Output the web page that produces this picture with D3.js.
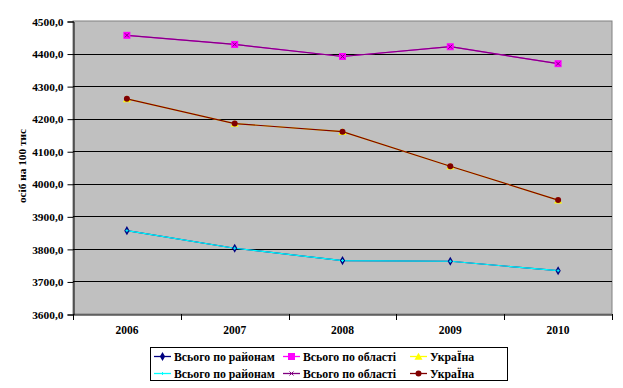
<!DOCTYPE html>
<html>
<head>
<meta charset="utf-8">
<script src="https://d3js.org/d3.v7.min.js"></script>
<style>
  body { margin: 0; background: #fff; }
</style>
</head>
<body>
<svg width="623" height="388"></svg>
<script>
var years = ["2006", "2007", "2008", "2009", "2010"];
var yTicks = [3600, 3700, 3800, 3900, 4000, 4100, 4200, 4300, 4400, 4500];
var rayony = [3856, 3802, 3764, 3762, 3733];
var oblast = [4456, 4428, 4391, 4421, 4369];
var ukraina = [4261, 4185, 4160, 4054, 3950];

var series = [
  { name: "Всього по районам", values: rayony, line: "#000080", marker: "diamond" },
  { name: "Всього по області", values: oblast, line: "#FF00FF", marker: "square" },
  { name: "УкраЇна", values: ukraina, line: "#FFFF00", marker: "triangle" },
  { name: "Всього по районам", values: rayony, line: "#00FFFF", marker: "cross" },
  { name: "Всього по області", values: oblast, line: "#800080", marker: "xmark" },
  { name: "УкраЇна", values: ukraina, line: "#800000", marker: "circle" }
];

var FONT = "Liberation Serif";
var svg = d3.select("svg");
var pl = 73, pr = 612, pt = 21, pb = 314;

var x = d3.scaleBand().domain(years).range([pl, pr]);
var y = d3.scaleLinear().domain([3600, 4500]).range([pb, pt]);

function serif(sel, size) {
  return sel.attr("font-family", FONT).attr("font-weight", "bold").attr("font-size", size)
    .style("font-family", FONT).style("font-weight", "bold").style("font-size", size + "px");
}

// plot area
svg.append("rect").attr("x", pl).attr("y", pt)
  .attr("width", pr - pl).attr("height", pb - pt)
  .attr("fill", "#C0C0C0").attr("stroke", "#808080");

// gridlines
svg.append("g").selectAll("line").data(yTicks.slice(1, -1)).enter().append("line")
  .attr("x1", pl).attr("x2", pr)
  .attr("y1", d => Math.round(y(d)) + 0.5).attr("y2", d => Math.round(y(d)) + 0.5)
  .attr("stroke", "#000");

// y axis
var yAxis = d3.axisLeft(y).tickValues(yTicks).tickSize(6).tickPadding(4)
  .tickFormat(d => d3.format(".1f")(d).replace(".", ","));
var gy = svg.append("g").attr("transform", "translate(" + (pl + 0.5) + ",0.5)").call(yAxis);
serif(gy, 11.4);
serif(gy.selectAll("text").attr("fill", "#000"), 11.4);

// x axis
var xAxis = d3.axisBottom(x).tickSize(0).tickPadding(11);
var gx = svg.append("g").attr("transform", "translate(0," + (pb + 0.5) + ")").call(xAxis);
serif(gx, 11.5);
serif(gx.selectAll("text").attr("fill", "#000"), 11.5);
gx.select(".domain").attr("stroke", "#000");
svg.append("g").selectAll("line").data(years.concat(["end"])).enter().append("line")
  .attr("x1", (d, i) => Math.round(pl + i * x.step()) + 0.5)
  .attr("x2", (d, i) => Math.round(pl + i * x.step()) + 0.5)
  .attr("y1", pb).attr("y2", pb + 6).attr("stroke", "#000");

// y label
serif(svg.append("text").attr("transform", "translate(26,166) rotate(-90)")
  .attr("text-anchor", "middle"), 11.3).text("осіб на 100 тис");

// lines
var line = d3.line().x((d, i) => x(years[i]) + x.bandwidth() / 2).y(d => y(d));
series.forEach(function (s) {
  svg.append("path").datum(s.values).attr("d", line)
    .attr("fill", "none").attr("stroke", s.line).attr("stroke-width", 1.2);
});

function drawMarker(g, type, color, cx, cy) {
  if (type === "diamond") {
    g.append("path").attr("d", d3.symbol(d3.symbolDiamond, 24)()).attr("transform", "translate(" + cx + "," + cy + ")")
      .attr("fill", color);
  } else if (type === "square") {
    g.append("rect").attr("x", cx - 3.5).attr("y", cy - 3.5).attr("width", 7).attr("height", 7).attr("fill", color);
  } else if (type === "triangle") {
    g.append("path").attr("d", d3.symbol(d3.symbolTriangle, 28)()).attr("transform", "translate(" + cx + "," + (cy + 1) + ")")
      .attr("fill", color);
  } else if (type === "cross") {
    g.append("path").attr("d", "M" + (cx - 1.5) + "," + cy + "H" + (cx + 1.5) + "M" + cx + "," + (cy - 1.5) + "V" + (cy + 1.5))
      .attr("stroke", color).attr("stroke-width", 1);
  } else if (type === "xmark") {
    g.append("path").attr("d", "M" + (cx - 2) + "," + (cy - 2) + "L" + (cx + 2) + "," + (cy + 2) + "M" + (cx + 2) + "," + (cy - 2) + "L" + (cx - 2) + "," + (cy + 2))
      .attr("stroke", color).attr("stroke-width", 1);
  } else if (type === "circle") {
    g.append("circle").attr("cx", cx).attr("cy", cy).attr("r", 3).attr("fill", color);
  }
}

// markers
series.forEach(function (s) {
  var g = svg.append("g");
  s.values.forEach(function (v, i) {
    drawMarker(g, s.marker, s.line, x(years[i]) + x.bandwidth() / 2, y(v));
  });
});

// legend
var lg = svg.append("g");
lg.append("rect").attr("x", 150.5).attr("y", 347.5).attr("width", 357).attr("height", 33)
  .attr("fill", "#fff").attr("stroke", "#000");
var colX = [154, 283, 410];
series.forEach(function (s, i) {
  var cx = colX[i % 3], cy = i < 3 ? 356 : 373;
  lg.append("line").attr("x1", cx).attr("x2", cx + 17).attr("y1", cy + 0.5).attr("y2", cy + 0.5)
    .attr("stroke", s.line).attr("stroke-width", 1.3);
  drawMarker(lg, s.marker, s.line, cx + 8.5, cy + 0.5);
  serif(lg.append("text").attr("x", cx + 20).attr("y", cy + 4.5), 11.8).text(s.name);
});
</script>
</body>
</html>
